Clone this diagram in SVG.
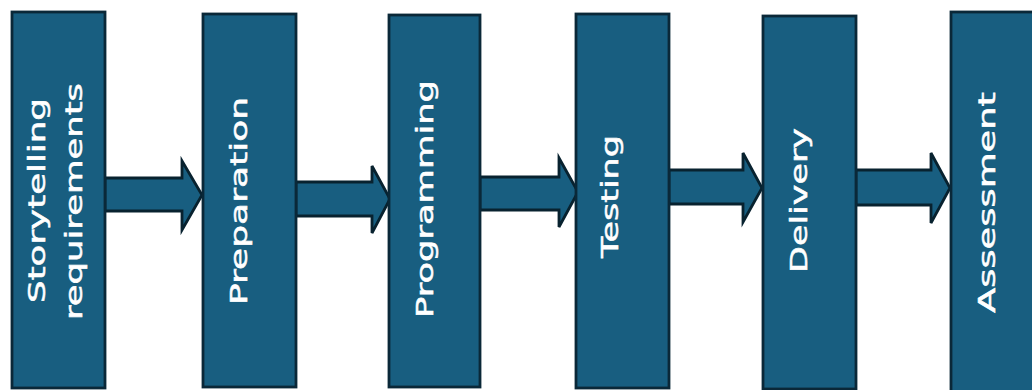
<svg xmlns="http://www.w3.org/2000/svg" width="1032" height="390" viewBox="0 0 1032 390">
  <style>
    .box { fill: #185e80; stroke: #0a2838; stroke-width: 2.8; }
    .arrow { fill: #185e80; stroke: #08222f; stroke-width: 2.8; stroke-linejoin: miter; }
    .label { fill: #ffffff; stroke: #ffffff; stroke-width: 0.5; font-family: "DejaVu Sans", "Liberation Sans", sans-serif; font-size: 23px; text-anchor: middle; }
  </style>
  <rect x="0" y="0" width="1032" height="390" fill="#ffffff"/>

  <g id="connectors">
    <polygon class="arrow" points="105,178 182,178 182,161 202,195 182,230 182,211 105,211"/>
    <polygon class="arrow" points="296,182 372,182 372,166 390,199 372,233 372,216 296,216"/>
    <polygon class="arrow" points="480,177 559,177 559,158 578,192 559,227 559,210 480,210"/>
    <polygon class="arrow" points="669,170 743,170 743,153 762,188 743,222 743,204 669,204"/>
    <polygon class="arrow" points="856,170 931,170 931,153 950,188 931,223 931,205 856,205"/>
  </g>

  <g id="storytelling-requirements">
    <rect class="box" x="12" y="12" width="93" height="376"/>
    <text class="label" transform="translate(45,200.5) rotate(-90)" textLength="205" lengthAdjust="spacingAndGlyphs">Storytelling</text>
    <text class="label" transform="translate(82,201.5) rotate(-90)" textLength="237" lengthAdjust="spacingAndGlyphs">requirements</text>
  </g>

  <g id="preparation">
    <rect class="box" x="203" y="14" width="93" height="373"/>
    <text class="label" transform="translate(247,201) rotate(-90)" textLength="208" lengthAdjust="spacingAndGlyphs">Preparation</text>
  </g>

  <g id="programming">
    <rect class="box" x="389" y="15" width="91" height="372"/>
    <text class="label" transform="translate(433,199) rotate(-90)" textLength="238" lengthAdjust="spacingAndGlyphs">Programming</text>
  </g>

  <g id="testing">
    <rect class="box" x="576" y="14" width="93" height="374"/>
    <text class="label" transform="translate(618,196.5) rotate(-90)" textLength="123" lengthAdjust="spacingAndGlyphs">Testing</text>
  </g>

  <g id="delivery">
    <rect class="box" x="763" y="16" width="93" height="373"/>
    <text class="label" transform="translate(807,200.5) rotate(-90)" textLength="145" lengthAdjust="spacingAndGlyphs">Delivery</text>
  </g>

  <g id="assessment">
    <rect class="box" x="951" y="12" width="93" height="384"/>
    <text class="label" transform="translate(995,202.5) rotate(-90)" textLength="221" lengthAdjust="spacingAndGlyphs">Assessment</text>
  </g>
</svg>
